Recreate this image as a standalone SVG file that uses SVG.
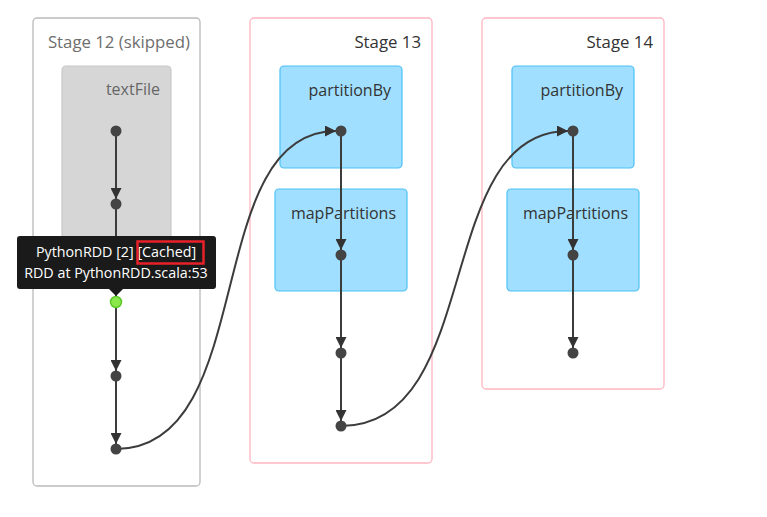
<svg xmlns="http://www.w3.org/2000/svg" width="767" height="517" viewBox="0 0 767 517">
<style>
text{font-family:"Open Sans","Noto Sans","Liberation Sans",sans-serif;font-size:16px}
.stage{fill:#fff;stroke-width:1.3}
.skip{stroke:#bbb}
.act{stroke:#ffb6c1}
.stitle{text-anchor:end;fill:#333;font-size:16.8px}
.skipt{fill:#6e6e6e}
.cl{fill:#a0dfff;stroke:#4dc1f5;stroke-width:1.2}
.clg{fill:#d6d6d6;stroke:#c8c8c8;stroke-width:1.2}
.clt{text-anchor:end;fill:#333}
.n{fill:#444}
.e{fill:none;stroke:#3c3c3c;stroke-width:2}
.tip{fill:#fff;font-size:14.3px;text-anchor:middle}
</style>
<defs>
<marker id="ah" viewBox="0 0 10 10" refX="10" refY="5" markerWidth="11" markerHeight="11" markerUnits="userSpaceOnUse" orient="auto">
<path d="M0,0 L10,5 L0,10 z" fill="#333"/>
</marker>
</defs>
<g id="stage12">
<rect class="stage skip" x="33" y="18" width="167" height="468" rx="4"/>
<text class="stitle skipt" x="190" y="48">Stage 12 (skipped)</text>
<g id="textFile">
<rect class="clg" x="62" y="66" width="109" height="176" rx="4"/>
<text class="clt" x="160" y="95" style="fill:#666">textFile</text>
</g>
</g>
<g id="stage13">
<rect class="stage act" x="250" y="18" width="182" height="445" rx="4"/>
<text class="stitle" x="421" y="48">Stage 13</text>
<g id="s13-partitionBy">
<rect class="cl" x="280" y="66" width="122" height="102" rx="4"/>
<text class="clt" x="391" y="96">partitionBy</text>
</g>
<g id="s13-mapPartitions">
<rect class="cl" x="275" y="189" width="132" height="102" rx="4"/>
<text class="clt" x="396" y="219">mapPartitions</text>
</g>
</g>
<g id="stage14">
<rect class="stage act" x="482" y="18" width="182" height="371" rx="4"/>
<text class="stitle" x="653" y="48">Stage 14</text>
<g id="s14-partitionBy">
<rect class="cl" x="512" y="66" width="122" height="102" rx="4"/>
<text class="clt" x="623" y="96">partitionBy</text>
</g>
<g id="s14-mapPartitions">
<rect class="cl" x="507" y="189" width="132" height="102" rx="4"/>
<text class="clt" x="628" y="219">mapPartitions</text>
</g>
</g>
<g id="connectors">
<path class="e" d="M116,131 V199" marker-end="url(#ah)"/>
<path class="e" d="M116,204 V297"/>
<path class="e" d="M116,302 V371" marker-end="url(#ah)"/>
<path class="e" d="M116,376 V444" marker-end="url(#ah)"/>
<path class="e" d="M116,449 C260,449 200,131 336,131" marker-end="url(#ah)"/>
<path class="e" d="M341,131 V250" marker-end="url(#ah)"/>
<path class="e" d="M341,255 V348" marker-end="url(#ah)"/>
<path class="e" d="M341,353 V421" marker-end="url(#ah)"/>
<path class="e" d="M341,426 C485,426 432,131 568,131" marker-end="url(#ah)"/>
<path class="e" d="M573,131 V250" marker-end="url(#ah)"/>
<path class="e" d="M573,255 V348" marker-end="url(#ah)"/>
</g>
<g id="nodes">
<circle id="n1" class="n" cx="116" cy="131" r="5.5"/>
<circle id="n2" class="n" cx="116" cy="204" r="5.5"/>
<circle id="n3" cx="116" cy="302" r="5.5" fill="#8be84a" stroke="#5cc92a" stroke-width="1.5"/>
<circle id="n4" class="n" cx="116" cy="376" r="5.5"/>
<circle id="n5" class="n" cx="116" cy="449" r="5.5"/>
<circle id="n6" class="n" cx="341" cy="131" r="5.5"/>
<circle id="n7" class="n" cx="341" cy="255" r="5.5"/>
<circle id="n8" class="n" cx="341" cy="353" r="5.5"/>
<circle id="n9" class="n" cx="341" cy="426" r="5.5"/>
<circle id="n10" class="n" cx="573" cy="131" r="5.5"/>
<circle id="n11" class="n" cx="573" cy="255" r="5.5"/>
<circle id="n12" class="n" cx="573" cy="353" r="5.5"/>
</g>
<g id="tooltip">
<rect x="17" y="236" width="199" height="53" rx="3" fill="#1a1a1a"/>
<path d="M109,289 L116,296 L123,289 z" fill="#1a1a1a"/>
<text class="tip" x="116" y="257">PythonRDD [2] [Cached]</text>
<text class="tip" x="116" y="278">RDD at PythonRDD.scala:53</text>
<rect x="137.5" y="241.5" width="66" height="22" fill="none" stroke="#e8202a" stroke-width="2.5"/>
</g>
</svg>
